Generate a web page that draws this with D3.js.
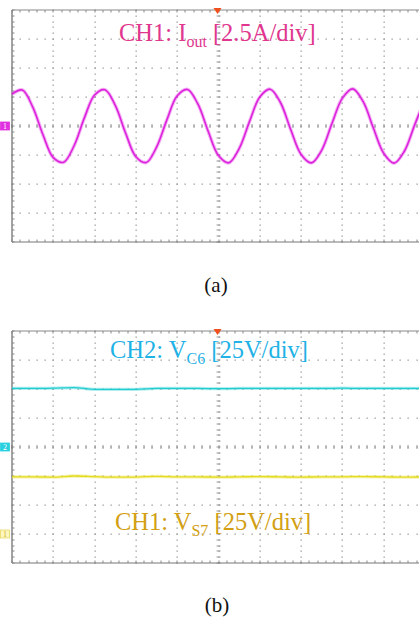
<!DOCTYPE html>
<html>
<head>
<meta charset="utf-8">
<title>Scope waveforms</title>
<script src="https://cdn.jsdelivr.net/npm/d3@7"></script>
<style>
  body { margin: 0; background: #fff; }
  svg { display: block; }
  text { font-family: "Liberation Serif", "Times New Roman", serif; }
</style>
</head>
<body>
<div id="chart"></div>
<script>
// time axis in divisions, sampled every 0.25 div
var tSine = d3.range(0, 10.001, 0.25);
// CH1 Iout, in divisions from centre (2.5 A/div)
var iout = [1.10, 1.24, 0.66, -0.30, -1.09, -1.25, -0.69, 0.27, 1.07, 1.25, 0.71,
            -0.24, -1.06, -1.26, -0.73, 0.21, 1.04, 1.26, 0.76, -0.18, -1.02,
            -1.27, -0.78, 0.15, 1.00, 1.27, 0.81, -0.13, -0.98, -1.27, -0.83,
            0.10, 0.96, 1.28, 0.85, -0.07, -0.94, -1.28, -0.87, 0.04, 0.93];

// flat traces sampled every 0.5 div
var tFlat = d3.range(0, 10.001, 0.5);
var vc6 = [2.02, 2.02, 2.03, 2.05, 1.99, 1.99, 1.99, 2.02, 2.02, 2.02, 2.01,
           2.02, 2.02, 2.02, 2.02, 2.02, 2.03, 2.02, 2.02, 2.02, 2.02];
var vs7 = [-1.03, -1.03, -1.04, -1.00, -1.02, -1.04, -1.04, -1.01, -1.03, -1.03, -1.04,
           -1.03, -1.02, -1.03, -1.04, -1.03, -1.03, -1.02, -1.03, -1.04, -1.03];

var W = 419, H = 619;
var svg = d3.select("#chart").append("svg").attr("width", W).attr("height", H);

function scope(top) {
  var x = d3.scaleLinear().domain([0, 10]).range([12, 425]);
  var y = d3.scaleLinear().domain([-4, 4]).range([top + 232, top]);
  var g = svg.append("g");

  // dotted grid
  var dots = [];
  d3.range(1, 10).forEach(function(i) {
    d3.range(-4, 4.001, 0.2).forEach(function(v) { dots.push([i, v]); });
  });
  d3.range(-3, 4).forEach(function(j) {
    d3.range(0, 10.001, 0.2).forEach(function(t) { dots.push([t, j]); });
  });
  g.selectAll(".dot").data(dots).enter().append("rect")
    .attr("x", function(d) { return Math.round(x(d[0])) - 0.5; })
    .attr("y", function(d) { return Math.round(y(d[1])) - 0.5; })
    .attr("width", 1.3).attr("height", 1.3)
    .attr("fill", "#9a9a9a");

  // centre axis ticks
  g.selectAll(".ct").data(d3.range(-4, 4.001, 0.2)).enter().append("line")
    .attr("x1", x(5) - 2).attr("x2", x(5) + 2)
    .attr("y1", function(d) { return Math.round(y(d)); })
    .attr("y2", function(d) { return Math.round(y(d)); })
    .attr("stroke", "#999").attr("stroke-width", 1);
  g.selectAll(".ch").data(d3.range(0, 10.001, 0.2)).enter().append("line")
    .attr("y1", y(0) - 2).attr("y2", y(0) + 2)
    .attr("x1", function(d) { return Math.round(x(d)); })
    .attr("x2", function(d) { return Math.round(x(d)); })
    .attr("stroke", "#999").attr("stroke-width", 1);

  // frame with ticks
  g.append("line").attr("x1", x(0)).attr("x2", W).attr("y1", y(4)).attr("y2", y(4))
    .attr("stroke", "#8a8a8a").attr("stroke-width", 1.2);
  g.append("line").attr("x1", x(0)).attr("x2", W).attr("y1", y(-4)).attr("y2", y(-4))
    .attr("stroke", "#777").attr("stroke-width", 1.2);
  g.append("line").attr("x1", x(0)).attr("x2", x(0)).attr("y1", y(4)).attr("y2", y(-4))
    .attr("stroke", "#666").attr("stroke-width", 1.2);
  g.selectAll(".tt").data(d3.range(0, 10.001, 0.2)).enter().append("line")
    .attr("x1", function(d) { return Math.round(x(d)); })
    .attr("x2", function(d) { return Math.round(x(d)); })
    .attr("y1", y(4)).attr("y2", y(4) + 2.5).attr("stroke", "#888");
  g.selectAll(".bt").data(d3.range(0, 10.001, 0.2)).enter().append("line")
    .attr("x1", function(d) { return Math.round(x(d)); })
    .attr("x2", function(d) { return Math.round(x(d)); })
    .attr("y1", y(-4)).attr("y2", y(-4) - 2.5).attr("stroke", "#888");
  g.selectAll(".lt").data(d3.range(-4, 4.001, 0.2)).enter().append("line")
    .attr("y1", function(d) { return Math.round(y(d)); })
    .attr("y2", function(d) { return Math.round(y(d)); })
    .attr("x1", x(0)).attr("x2", x(0) + 2.5).attr("stroke", "#888");

  // trigger marker
  var tx = x(5) - 1;
  g.append("path")
    .attr("d", "M" + (tx - 4) + "," + (y(4) - 2) + "L" + (tx + 4) + "," + (y(4) - 2) + "L" + tx + "," + (y(4) + 4) + "Z")
    .attr("fill", "#f0501e");

  return { g: g, x: x, y: y };
}

function trace(s, ts, vs, color, w, curve) {
  var line = d3.line()
    .x(function(d, i) { return s.x(ts[i]); })
    .y(function(d) { return s.y(d); })
    .curve(curve);
  s.g.append("path").datum(vs).attr("d", line)
    .attr("fill", "none").attr("stroke", color).attr("stroke-opacity", 0.35)
    .attr("stroke-width", w + 2);
  s.g.append("path").datum(vs).attr("d", line)
    .attr("fill", "none").attr("stroke", color).attr("stroke-width", w);
}

function marker(s, level, label, fill, stroke, textColor) {
  var yy = s.y(level);
  s.g.append("rect").attr("x", 0.5).attr("y", yy - 4).attr("width", 9).attr("height", 8)
    .attr("fill", fill).attr("stroke", stroke).attr("stroke-width", 0.8);
  s.g.append("text").attr("x", 5).attr("y", yy + 3).attr("text-anchor", "middle")
    .attr("font-size", 8).attr("font-family", "DejaVu Sans").attr("fill", textColor).text(label);
}

function label(s, xPos, yPos, color, main, sub, tail) {
  var t = s.g.append("text").attr("x", xPos).attr("y", yPos)
    .attr("font-size", 24.5).attr("fill", color);
  t.append("tspan").text(main);
  t.append("tspan").attr("font-size", 16).attr("dy", 6).text(sub);
  t.append("tspan").attr("dy", -6).text(tail);
}

// (a) output current
var a = scope(10);
trace(a, tSine, iout, "#dd22dd", 1.6, d3.curveCatmullRom);
marker(a, 0, "1", "#e030e0", "#e030e0", "#fff");
label(a, 119, 41, "#e0368e", "CH1: I", "out", " [2.5A/div]");

// (b) capacitor and switch voltages
var b = scope(331);
trace(b, tFlat, vc6, "#22cdd2", 1.3, d3.curveMonotoneX);
trace(b, tFlat, vs7, "#e4dc1e", 1.3, d3.curveMonotoneX);
marker(b, 0, "2", "#2ad0e0", "#2ad0e0", "#fff");
marker(b, -3, "1", "#fff6c0", "#e8d860", "#c8b030");
label(b, 110, 358, "#1fb2e6", "CH2: V", "C6", " [25V/div]");
label(b, 115, 530, "#d2a012", "CH1: V", "S7", " [25V/div]");

// captions
svg.append("text").attr("x", 216).attr("y", 292).attr("text-anchor", "middle")
  .attr("font-size", 21).attr("fill", "#111").text("(a)");
svg.append("text").attr("x", 217).attr("y", 612).attr("text-anchor", "middle")
  .attr("font-size", 21).attr("fill", "#111").text("(b)");
</script>
</body>
</html>
